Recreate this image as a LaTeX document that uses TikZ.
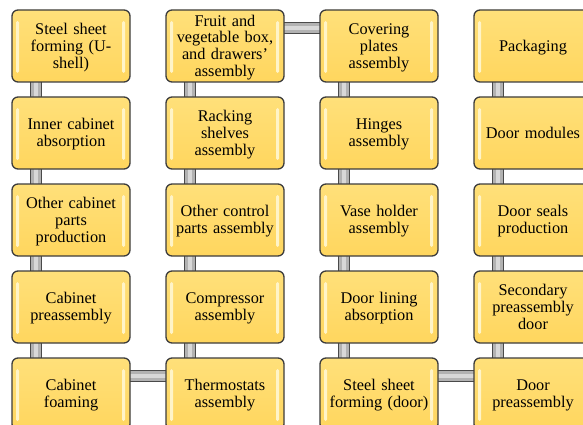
\documentclass[tikz,border=0pt]{standalone}
\usepackage{fontspec}
\setmainfont{Liberation Serif}
\usetikzlibrary{backgrounds}
\definecolor{boxedge}{HTML}{3C3C3C}
\definecolor{boxtop}{HTML}{FFE07A}
\definecolor{boxbot}{HTML}{FFD65E}
\definecolor{shine}{HTML}{FFF4C8}
\definecolor{baredge}{HTML}{4A4A4A}
\definecolor{barfill}{HTML}{B2B2B2}
\definecolor{barshine}{HTML}{D8D8D8}
\tikzset{
  stage/.style={rectangle, rounded corners=6pt, draw=boxedge, line width=1.3pt,
    top color=boxtop, bottom color=boxbot,
    minimum width=118pt, minimum height=72pt, inner sep=0pt,
    text width=112pt, align=center,
    font=\fontsize{16.3}{16.8}\selectfont,
    % fixed ascent and descent so every label sits on the same optical centre
    execute at begin node={\rule{0pt}{14.5pt}},
    execute at end node={\rule[-3.9pt]{0pt}{3.9pt}},
    path picture={
      \fill[shine, rounded corners=1.5pt]
        ([xshift=4pt,yshift=-11pt]path picture bounding box.north west) rectangle
        ([xshift=7pt,yshift=9pt]path picture bounding box.south west);
      \fill[shine, rounded corners=1.5pt]
        ([xshift=-8pt,yshift=-11pt]path picture bounding box.north east) rectangle
        ([xshift=-5pt,yshift=9pt]path picture bounding box.south east);
    }},
  barout/.style={line width=12pt, draw=baredge},
  barin/.style={line width=9.6pt, draw=barfill},
  barglow/.style={line width=3.5pt, draw=barshine}
}
\newcommand{\linkbar}[2]{%
  \draw[barout] #1 -- #2;
  \draw[barin] #1 -- #2;
  \draw[barglow] #1 -- #2;}
\begin{document}
\begin{tikzpicture}[x=1pt, y=-1pt]
\useasboundingbox (0,0) rectangle (583,425);

% column 1: cabinet body
\node[stage] (c1) at (71,46)  {Steel sheet\\forming (U-\\shell)};
\node[stage] (c2) at (71,133) {Inner cabinet\\absorption};
\node[stage] (c3) at (71,220) {Other cabinet\\parts\\production};
\node[stage] (c4) at (71,307) {Cabinet\\preassembly};
\node[stage] (c5) at (71,394) {Cabinet\\foaming};

% column 2: interior parts
\node[stage] (d1) at (225,46)  {Fruit and\\vegetable box,\\and drawers’\\assembly};
\node[stage] (d2) at (225,133) {Racking\\shelves\\assembly};
\node[stage] (d3) at (225,220) {Other control\\parts assembly};
\node[stage] (d4) at (225,307) {Compressor\\assembly};
\node[stage] (d5) at (225,394) {Thermostats\\assembly};

% column 3: door body
\node[stage] (e1) at (379,46)  {Covering\\plates\\assembly};
\node[stage] (e2) at (379,133) {Hinges\\assembly};
\node[stage] (e3) at (379,220) {Vase holder\\assembly};
\node[stage] (e4) at (379,307) {Door lining\\absorption};
\node[stage] (e5) at (379,394) {Steel sheet\\forming (door)};

% column 4: door finishing and packaging
\node[stage] (f1) at (533,46)  {Packaging};
\node[stage] (f2) at (533,133) {Door modules};
\node[stage] (f3) at (533,220) {Door seals\\production};
\node[stage] (f4) at (533,307) {Secondary\\preassembly\\door};
\node[stage] (f5) at (533,394) {Door\\preassembly};

\begin{scope}[on background layer]
  % vertical links inside each column
  \foreach \col in {c,d,e,f}{
    \foreach \a/\b in {1/2,2/3,3/4,4/5}{
      \linkbar{([xshift=-35pt,yshift=2pt]\col\a.south)}{([xshift=-35pt,yshift=-2pt]\col\b.north)}
    }
  }
  % horizontal links between columns
  \linkbar{([xshift=-2pt,yshift=18pt]c5.east)}{([xshift=2pt,yshift=18pt]d5.west)}
  \linkbar{([xshift=-2pt,yshift=18pt]d1.east)}{([xshift=2pt,yshift=18pt]e1.west)}
  \linkbar{([xshift=-2pt,yshift=18pt]e5.east)}{([xshift=2pt,yshift=18pt]f5.west)}
\end{scope}
\end{tikzpicture}
\end{document}
